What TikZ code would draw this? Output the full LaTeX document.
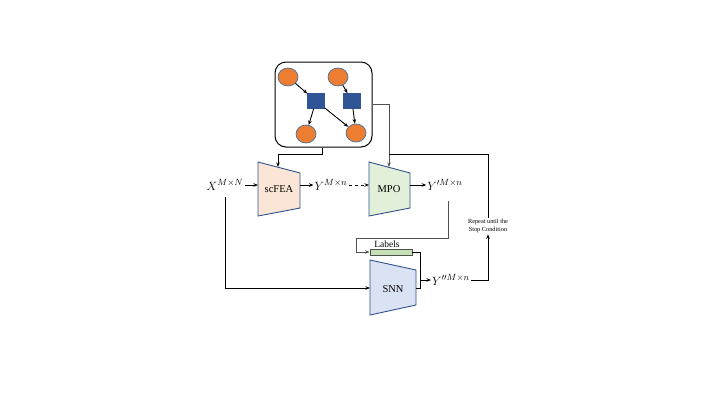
\documentclass[tikz,border=0pt]{standalone}
\usepackage{fontspec}
\setmainfont{Liberation Serif}
\usetikzlibrary{arrows.meta,shapes.geometric}
\definecolor{peach}{HTML}{FBE5D6}
\definecolor{lgreen}{HTML}{E2F0D9}
\definecolor{lblue}{HTML}{DAE3F3}
\definecolor{bord}{HTML}{2F528F}
\definecolor{orng}{HTML}{ED7D31}
\definecolor{cbord}{HTML}{41719C}
\definecolor{sqfill}{HTML}{2F5597}
\definecolor{labfill}{HTML}{C5E0B4}
\definecolor{gline}{HTML}{505050}
\tikzset{
  circ/.style={ellipse, draw=cbord, fill=orng, line width=0.7pt, minimum width=20pt, minimum height=18pt, inner sep=0pt},
  sq/.style={rectangle, draw=sqfill, fill=sqfill, minimum width=17pt, minimum height=15pt, inner sep=0pt},
  trap/.style={draw=bord, line width=0.9pt},
  conn/.style={line width=0.9pt},
  lbl/.style={font=\fontsize{10.5}{12}\selectfont, inner sep=0pt},
  mth/.style={font=\fontsize{13}{15}\selectfont, inner sep=1pt},
}
\begin{document}
\begin{tikzpicture}[x=1pt,y=-1pt, >={Stealth[length=4.5pt,width=3.5pt]}]
\useasboundingbox (0,0) rectangle (720,405);
% top graph box
\node[draw, rounded corners=11pt, minimum width=97pt, minimum height=85pt, line width=1pt] (box) at (323.5,104.5) {};
\node[circ] (c1) at (288,77) {};
\node[circ] (c2) at (338,77) {};
\node[circ] (c3) at (306,134) {};
\node[circ] (c4) at (356,133) {};
\node[sq] (s1) at (316,101) {};
\node[sq] (s2) at (352,101) {};
\draw[->, conn] (c1) -- (s1);
\draw[->, conn] (c2) -- (s2);
\draw[->, conn] (s1) -- (c3);
\draw[->, conn] (s1) -- (c4);
\draw[->, conn] (s2) -- (c4);
% scFEA
\draw[trap, fill=peach] (258,162) -- (300,173) -- (300,208) -- (258,216) -- cycle;
\node[lbl] (scfea) at (279,189) {scFEA};
\coordinate (scfeaL) at (258,185);
\coordinate (scfeaR) at (300,185);
\coordinate (scfeaT) at (278,167);
% MPO
\draw[trap, fill=lgreen] (369,162) -- (410,173) -- (410,208) -- (369,216) -- cycle;
\node[lbl] (mpo) at (389,189) {MPO};
\coordinate (mpoL) at (369,185);
\coordinate (mpoR) at (410,185);
\coordinate (mpoT) at (389,167);
% SNN
\draw[trap, fill=lblue] (370,260) -- (416,270) -- (416,305) -- (370,315) -- cycle;
\node[lbl] (snn) at (393,289) {SNN};
\coordinate (snnL) at (370,288);
\coordinate (snnR) at (416,288);
% labels bar
\node[draw=gline, fill=labfill, line width=0.8pt, minimum width=42pt, minimum height=6pt, inner sep=0pt] (lab) at (391,252) {};
\node[font=\fontsize{9.5}{10}\selectfont, inner sep=0pt] (labt) at (387,244) {Labels};
% math labels
\node[mth] (x) at (225,185) {$X^{M\times N}$};
\node[mth] (y) at (331,185) {$Y^{M\times n}$};
\node[mth] (yp) at (445,185) {$Y^{\prime M\times n}$};
\node[mth] (ypp) at (451,280) {$Y^{\prime\prime M\times n}$};
\node[font=\fontsize{6.3}{8.5}\selectfont, align=center, inner sep=1pt] (rep) at (488,226) {Repeat until the\\Stop Condition};
% connectors
\draw[->, conn] (x.east) -- (scfeaL);
\draw[->, conn] (scfeaR) -- (y.west);
\draw[->, conn, dashed] (y.east) -- (mpoL);
\draw[->, conn] (mpoR) -- (yp.west);
\draw[->, conn] (box.south -| 322,0) -- (322,154) -| (scfeaT);
\draw[->, conn, gline] (box.east) -| (mpoT);
\draw[conn] (rep.north) -- (488,154) -- (389,154);
\draw[->, conn] (225,197) |- (snnL);
\draw[->, conn, gline] (448,201) -- (448,238) -| (356,252) -- (lab.west);
\draw[conn] (lab.east) -| (420,288) -- (snnR);
\draw[->, conn] (420,280) -- (ypp.west);
\draw[->, conn] (ypp.east) -| (rep.south);
\end{tikzpicture}
\end{document}
